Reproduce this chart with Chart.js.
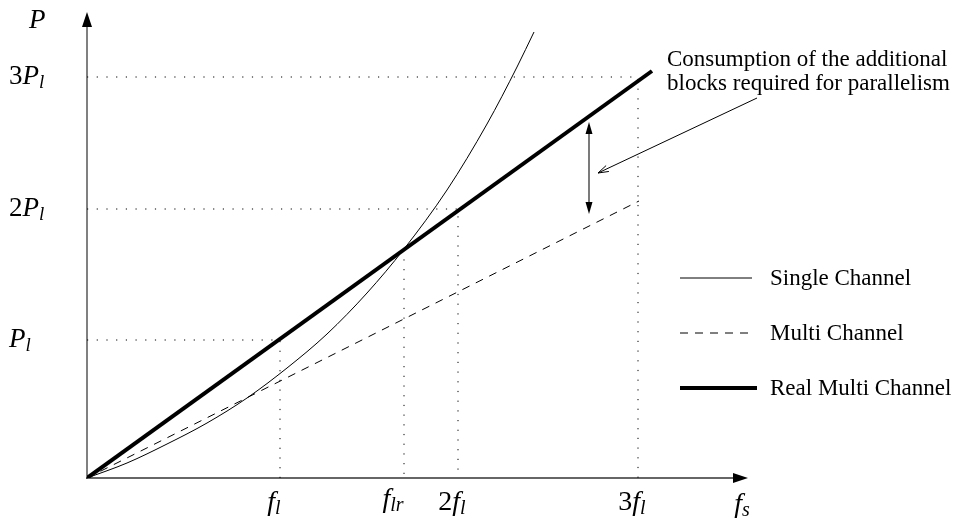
<!DOCTYPE html>
<html>
<head>
<meta charset="utf-8">
<script src="https://cdn.jsdelivr.net/npm/chart.js@4/dist/chart.umd.min.js"></script>
<style>
  html, body { margin: 0; padding: 0; background: #fff; }
  canvas { display: block; }
</style>
</head>
<body>
<canvas id="chart" width="958" height="523"></canvas>
<script>
/* Power vs. sampling frequency: single / multi / real multi channel */

const singleX = [0, 40, 80, 120, 160, 200, 240, 280, 317, 360, 400, 430, 447];
const singleY = [0, 15, 34, 55, 80, 110, 144, 185, 229, 288, 354, 411, 446];
const multiX  = [0, 552];
const multiY  = [0, 277];
const realX   = [0, 565];
const realY   = [0, 407];

const xTickVals   = [193, 317, 371, 551];
const xTickLabels = ['f_l', 'f_lr', '2f_l', '3f_l'];
const yTickVals   = [138, 269, 401];
const yTickLabels = ['P_l', '2P_l', '3P_l'];
const seriesNames = ['Single Channel', 'Multi Channel', 'Real Multi Channel'];
const noteLines   = ['Consumption of the additional', 'blocks required for parallelism'];

const X_MAX = 661, Y_MAX = 466;
const SERIF = '"Liberation Serif", "Times New Roman", serif';

function pts(xs, ys) { return xs.map((x, i) => ({ x, y: ys[i] })); }

// dotted guides: each P level runs across to its f tick, then down
const guidePairs = [[0, 0], [2, 1], [3, 2]];
const guides = guidePairs.map(([xi, yi]) => [
  { x: 0, y: yTickVals[yi] },
  { x: xTickVals[xi], y: yTickVals[yi] },
  { x: xTickVals[xi], y: 0 },
]);
const flrTop = realY[1] / realX[1] * xTickVals[1];
guides.push([{ x: xTickVals[1], y: flrTop }, { x: xTickVals[1], y: 0 }]);

const guideSets = guides.map(g => ({
  data: g, borderColor: '#000', borderWidth: 1, borderDash: [1.2, 8.5],
  pointRadius: 0, fill: false, guide: true,
}));

function drawMath(ctx, s, x, y, align, size) {
  const [base, sub] = s.split('_');
  const parts = [];
  for (const ch of base) parts.push({ t: ch, font: (/\d/.test(ch) ? '' : 'italic ') + size + 'px ' + SERIF, dy: 0 });
  if (sub) parts.push({ t: sub, font: 'italic ' + Math.round(size * 0.72) + 'px ' + SERIF, dy: size * 0.22 });
  let w = 0;
  parts.forEach(p => { ctx.font = p.font; p.w = ctx.measureText(p.t).width; w += p.w; });
  let cx = align === 'center' ? x - w / 2 : x;
  ctx.textBaseline = 'middle';
  ctx.textAlign = 'left';
  parts.forEach(p => { ctx.font = p.font; ctx.fillText(p.t, cx, y + p.dy); cx += p.w; });
}

function filledHead(ctx, tx, ty, ang, len, half) {
  ctx.beginPath();
  ctx.moveTo(tx, ty);
  ctx.lineTo(tx - len * Math.cos(ang) + half * Math.sin(ang), ty - len * Math.sin(ang) - half * Math.cos(ang));
  ctx.lineTo(tx - len * Math.cos(ang) - half * Math.sin(ang), ty - len * Math.sin(ang) + half * Math.cos(ang));
  ctx.closePath();
  ctx.fill();
}

const decor = {
  id: 'decor',
  beforeDatasetsDraw(chart) {
    const { ctx, scales: { x, y } } = chart;
    const x0 = x.getPixelForValue(0), y0 = y.getPixelForValue(0);
    const xEnd = x.getPixelForValue(X_MAX), yEnd = y.getPixelForValue(Y_MAX);
    ctx.save();
    ctx.strokeStyle = '#808080'; ctx.lineWidth = 2;
    ctx.beginPath(); ctx.moveTo(x0, y0 + 1); ctx.lineTo(x0, yEnd + 8); ctx.stroke();
    ctx.strokeStyle = '#333'; ctx.lineWidth = 1.5;
    ctx.beginPath(); ctx.moveTo(x0 - 1, y0); ctx.lineTo(xEnd - 8, y0); ctx.stroke();
    ctx.fillStyle = '#000';
    filledHead(ctx, x0, yEnd, -Math.PI / 2, 15, 5);
    filledHead(ctx, xEnd, y0, 0, 15, 5);
    ctx.restore();
  },
  afterDatasetsDraw(chart) {
    const { ctx, scales: { x, y } } = chart;
    ctx.save();
    ctx.fillStyle = '#000';

    // tick labels
    yTickVals.forEach((v, i) => drawMath(ctx, yTickLabels[i], 9, y.getPixelForValue(v), 'left', 27));
    xTickVals.forEach((v, i) => drawMath(ctx, xTickLabels[i], x.getPixelForValue(v) - (i === 1 ? 11 : 6), i === 1 ? 500 : 503, 'center', 28));
    drawMath(ctx, 'P', 29, y.getPixelForValue(Y_MAX) + 9, 'left', 27);
    drawMath(ctx, 'f_s', x.getPixelForValue(X_MAX) - 6, 505, 'center', 28);

    // legend
    const sets = chart.data.datasets.filter(d => !d.guide);
    sets.forEach((d, i) => {
      const ly = 278 + i * 55;
      ctx.strokeStyle = '#000';
      ctx.lineWidth = d.borderWidth;
      ctx.setLineDash(d.borderDash || []);
      ctx.beginPath(); ctx.moveTo(680, ly); ctx.lineTo(d.borderWidth > 2 ? 757 : 752, ly); ctx.stroke();
      ctx.setLineDash([]);
      ctx.font = '23px ' + SERIF;
      ctx.textBaseline = 'alphabetic'; ctx.textAlign = 'left';
      ctx.fillText(d.label, 770, ly + 7);
    });

    // note text
    ctx.font = '23px ' + SERIF;
    noteLines.forEach((t, i) => ctx.fillText(t, 667, 66 + i * 24));

    // double arrow between real and ideal multi channel
    const ax = x.getPixelForValue(502);
    const aTop = y.getPixelForValue(356), aBot = y.getPixelForValue(264);
    ctx.strokeStyle = '#222'; ctx.lineWidth = 1.2;
    ctx.beginPath(); ctx.moveTo(ax, aTop + 4); ctx.lineTo(ax, aBot - 4); ctx.stroke();
    filledHead(ctx, ax, aTop, -Math.PI / 2, 12, 3.5);
    filledHead(ctx, ax, aBot, Math.PI / 2, 12, 3.5);

    // pointer from the note
    const px0 = x.getPixelForValue(670), py0 = y.getPixelForValue(380);
    const px1 = x.getPixelForValue(511), py1 = y.getPixelForValue(305);
    const ang = Math.atan2(py1 - py0, px1 - px0);
    ctx.lineWidth = 1; ctx.strokeStyle = '#000';
    ctx.beginPath(); ctx.moveTo(px0, py0); ctx.lineTo(px1, py1); ctx.stroke();
    ctx.beginPath();
    ctx.moveTo(px1 - 11 * Math.cos(ang - 0.3), py1 - 11 * Math.sin(ang - 0.3));
    ctx.lineTo(px1, py1);
    ctx.lineTo(px1 - 11 * Math.cos(ang + 0.3), py1 - 11 * Math.sin(ang + 0.3));
    ctx.stroke();
    ctx.restore();
  },
};

new Chart(document.getElementById('chart'), {
  type: 'line',
  data: {
    datasets: [
      { label: seriesNames[0], data: pts(singleX, singleY), borderColor: '#000', borderWidth: 1,
        cubicInterpolationMode: 'monotone', pointRadius: 0, fill: false },
      { label: seriesNames[1], data: pts(multiX, multiY), borderColor: '#000', borderWidth: 1,
        borderDash: [8, 7], pointRadius: 0, fill: false },
      { label: seriesNames[2], data: pts(realX, realY), borderColor: '#000', borderWidth: 4,
        pointRadius: 0, fill: false },
      ...guideSets,
    ],
  },
  options: {
    responsive: false,
    devicePixelRatio: 1,
    animation: false,
    layout: { padding: { left: 87, right: 210, top: 12, bottom: 45 } },
    scales: {
      x: { type: 'linear', min: 0, max: X_MAX, display: false },
      y: { type: 'linear', min: 0, max: Y_MAX, display: false },
    },
    plugins: { legend: { display: false }, tooltip: { enabled: false } },
  },
  plugins: [decor],
});
</script>
</body>
</html>
